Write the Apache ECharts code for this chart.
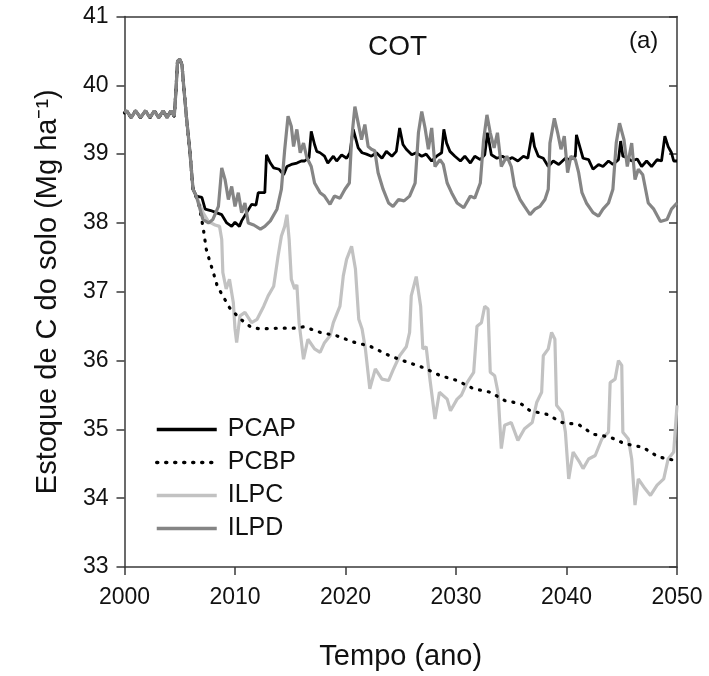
<!DOCTYPE html>
<html>
<head>
<meta charset="utf-8">
<script src="https://cdn.jsdelivr.net/npm/echarts@6/dist/echarts.min.js"></script>
<style>
html,body{margin:0;padding:0;background:#fff;}
#c{width:709px;height:676px;}
</style>
</head>
<body>
<div id="c"></div>
<script>
// ---- data (year, soil C stock Mg/ha) ----
const seriesNames = ['PCAP', 'PCBP', 'ILPC', 'ILPD'];
const xTicks = [2000, 2010, 2020, 2030, 2040, 2050];
const yTicks = [33, 34, 35, 36, 37, 38, 39, 40, 41];

// common period (all scenarios identical)
const shared = [
  [2000.0,39.60],[2000.2,39.63],[2000.6,39.53],[2001.0,39.63],[2001.45,39.53],[2001.9,39.63],
  [2002.3,39.53],[2002.7,39.63],[2003.1,39.53],[2003.5,39.63],[2003.85,39.53],[2004.2,39.63],
  [2004.5,39.55],[2004.65,39.90],[2004.8,40.35],[2005.0,40.38],[2005.2,40.30],[2005.35,40.00],
  [2005.6,39.55],[2005.9,39.07],[2006.2,38.49]
];

const pcapTail = [
  [2006.5,38.39],[2007.0,38.37],[2007.3,38.20],[2007.8,38.18],[2008.3,38.15],[2008.8,38.12],
  [2009.25,38.00],[2009.7,37.95],[2010.0,38.01],[2010.4,37.95],[2010.6,38.03],[2011.05,38.15],
  [2011.5,38.27],[2011.9,38.26],[2012.1,38.44],[2012.7,38.44],[2012.85,38.99],[2013.2,38.87],
  [2013.5,38.80],[2014.0,38.78],[2014.4,38.70],[2014.7,38.82],[2015.1,38.85],[2015.6,38.87],
  [2016.0,38.90],[2016.3,38.90],[2016.7,38.95],[2016.9,39.33],[2017.2,39.14],[2017.4,39.04],
  [2017.7,39.02],[2018.1,38.97],[2018.4,38.87],[2018.9,38.97],[2019.2,38.90],[2019.65,38.99],
  [2020.1,38.94],[2020.4,39.02],[2020.7,39.36],[2020.95,39.21],[2021.15,39.09],[2021.5,39.02],
  [2021.9,39.00],[2022.35,38.97],[2022.8,39.02],[2023.3,38.94],[2023.7,39.04],[2024.2,38.97],
  [2024.6,39.04],[2024.9,39.38],[2025.2,39.14],[2025.5,39.07],[2026.0,38.99],[2026.4,39.02],
  [2026.9,38.97],[2027.3,39.00],[2027.8,38.90],[2028.25,38.97],[2028.7,39.02],[2028.9,39.36],
  [2029.15,39.16],[2029.45,39.04],[2029.9,38.97],[2030.4,38.90],[2030.8,38.97],[2031.3,38.87],
  [2031.7,38.97],[2032.2,38.92],[2032.6,38.99],[2032.85,39.31],[2033.2,38.99],[2033.7,38.94],
  [2034.2,38.97],[2034.7,38.92],[2035.1,38.95],[2035.6,38.90],[2036.1,38.97],[2036.5,38.94],
  [2036.9,39.31],[2037.1,39.11],[2037.45,38.97],[2037.9,38.94],[2038.35,38.82],[2038.8,38.90],
  [2039.3,38.85],[2039.9,38.94],[2040.3,38.92],[2040.8,38.97],[2040.9,39.28],[2041.2,39.11],
  [2041.5,38.94],[2042.0,38.92],[2042.4,38.78],[2042.9,38.85],[2043.3,38.82],[2043.8,38.90],
  [2044.2,38.85],[2044.7,38.92],[2044.9,39.19],[2045.1,38.97],[2045.5,38.95],[2045.9,38.90],
  [2046.4,38.93],[2046.8,38.82],[2047.25,38.90],[2047.7,38.82],[2048.2,38.92],[2048.6,38.90],
  [2048.9,39.26],[2049.2,39.11],[2049.5,39.02],[2049.7,38.90],[2050.0,38.90]
];

const pcbpTail = [
  [2006.7,38.29],[2007.1,37.95],[2007.4,37.62],[2007.7,37.45],[2008.0,37.30],[2008.4,37.08],
  [2008.9,36.94],[2009.5,36.77],[2010.2,36.65],[2010.75,36.57],[2011.5,36.48],[2012.3,36.46],
  [2013.8,36.47],[2015.3,36.47],[2016.2,36.49],[2016.8,36.46],[2017.7,36.41],[2019.2,36.36],
  [2020.7,36.27],[2022.2,36.21],[2024.0,36.07],[2025.7,35.97],[2027.0,35.90],[2028.6,35.78],
  [2030.1,35.71],[2031.6,35.59],[2033.1,35.54],[2034.4,35.42],[2035.9,35.37],[2036.7,35.27],
  [2038.2,35.22],[2039.6,35.10],[2041.1,35.07],[2042.4,34.93],[2043.9,34.89],[2045.3,34.79],
  [2046.9,34.74],[2048.3,34.60],[2049.8,34.55],[2050.0,34.54]
];

const ilpcTail = [
  [2006.5,38.39],[2007.1,38.15],[2007.6,38.02],[2008.2,37.97],[2008.6,37.95],[2008.8,37.76],
  [2008.9,37.28],[2009.2,37.04],[2009.5,37.18],[2009.85,36.84],[2010.0,36.46],[2010.15,36.26],
  [2010.45,36.65],[2010.9,36.70],[2011.5,36.55],[2012.0,36.60],[2012.6,36.79],[2013.0,36.94],
  [2013.5,37.08],[2013.9,37.52],[2014.2,37.81],[2014.5,37.95],[2014.7,38.12],[2014.9,37.76],
  [2015.1,37.18],[2015.4,37.04],[2015.6,37.10],[2015.8,36.55],[2016.2,36.02],[2016.6,36.31],
  [2017.2,36.17],[2017.7,36.12],[2018.1,36.26],[2018.6,36.36],[2018.9,36.55],[2019.5,36.79],
  [2019.8,37.23],[2020.1,37.47],[2020.55,37.66],[2020.9,37.33],[2021.2,36.60],[2021.5,36.46],
  [2021.8,36.17],[2022.2,35.59],[2022.7,35.88],[2023.3,35.73],[2023.9,35.71],[2024.3,35.86],
  [2024.9,36.07],[2025.5,36.20],[2025.8,36.41],[2025.95,36.94],[2026.4,37.22],[2026.8,36.79],
  [2027.0,36.17],[2027.3,36.20],[2027.6,35.78],[2028.1,35.15],[2028.5,35.54],[2029.2,35.44],
  [2029.5,35.27],[2030.1,35.44],[2030.5,35.50],[2031.0,35.68],[2031.6,35.83],[2031.9,36.50],
  [2032.3,36.55],[2032.6,36.79],[2032.9,36.75],[2033.1,35.83],[2033.5,35.78],[2033.8,35.54],
  [2034.1,34.72],[2034.4,35.06],[2035.0,35.10],[2035.6,34.84],[2036.2,35.01],[2036.9,35.10],
  [2037.3,35.39],[2037.75,35.54],[2037.9,36.07],[2038.35,36.17],[2038.65,36.41],[2038.95,36.31],
  [2039.1,35.35],[2039.6,35.25],[2039.9,34.96],[2040.2,34.28],[2040.6,34.67],[2041.2,34.52],
  [2041.5,34.43],[2042.0,34.57],[2042.6,34.62],[2043.2,34.86],[2043.8,34.96],[2043.95,35.68],
  [2044.4,35.73],[2044.7,36.00],[2045.0,35.93],[2045.1,34.96],[2045.6,34.86],[2045.9,34.57],
  [2046.2,33.90],[2046.5,34.28],[2047.1,34.14],[2047.6,34.04],[2048.2,34.19],[2048.8,34.28],
  [2049.2,34.57],[2049.7,34.67],[2050.0,35.35]
];

const ilpdTail = [
  [2006.5,38.39],[2007.1,38.05],[2007.6,38.00],[2008.0,38.05],[2008.5,38.24],[2008.8,38.80],
  [2009.1,38.63],[2009.4,38.34],[2009.7,38.53],[2010.0,38.24],[2010.3,38.44],[2010.6,38.15],
  [2010.9,38.29],[2011.2,38.00],[2011.7,37.97],[2012.3,37.91],[2012.7,37.95],[2013.2,38.03],
  [2013.8,38.20],[2014.2,38.49],[2014.5,39.07],[2014.8,39.55],[2015.1,39.40],[2015.3,39.11],
  [2015.6,39.36],[2015.9,39.02],[2016.2,39.16],[2016.5,38.95],[2016.9,38.82],[2017.2,38.58],
  [2017.7,38.44],[2018.1,38.39],[2018.6,38.27],[2019.0,38.39],[2019.5,38.36],[2019.95,38.49],
  [2020.35,38.58],[2020.55,39.21],[2020.85,39.69],[2021.15,39.45],[2021.45,39.21],[2021.75,39.43],
  [2022.05,39.11],[2022.35,39.07],[2022.65,39.05],[2022.95,38.73],[2023.4,38.49],[2023.9,38.29],
  [2024.3,38.24],[2024.8,38.34],[2025.3,38.32],[2025.8,38.39],[2026.3,38.58],[2026.6,39.31],
  [2026.9,39.62],[2027.2,39.38],[2027.5,39.07],[2027.8,39.38],[2028.1,38.82],[2028.55,38.92],
  [2028.85,38.85],[2029.2,38.58],[2029.6,38.44],[2030.1,38.29],[2030.7,38.22],[2031.3,38.39],
  [2031.7,38.36],[2032.2,38.58],[2032.5,39.21],[2032.8,39.57],[2033.1,39.31],[2033.45,39.09],
  [2033.75,39.31],[2034.1,38.82],[2034.6,38.97],[2035.0,38.82],[2035.3,38.53],[2035.8,38.34],
  [2036.2,38.24],[2036.7,38.12],[2037.15,38.20],[2037.6,38.24],[2038.05,38.34],[2038.35,38.49],
  [2038.5,39.16],[2038.9,39.52],[2039.2,39.31],[2039.5,39.07],[2039.8,39.26],[2040.1,38.73],
  [2040.4,38.97],[2040.8,38.92],[2041.1,38.73],[2041.4,38.44],[2041.8,38.29],[2042.4,38.15],
  [2042.9,38.10],[2043.3,38.20],[2043.8,38.29],[2044.2,38.49],[2044.5,39.16],[2044.8,39.45],
  [2045.2,39.21],[2045.5,38.82],[2045.9,39.16],[2046.2,38.63],[2046.5,38.78],[2046.9,38.70],
  [2047.4,38.29],[2047.9,38.20],[2048.5,38.02],[2049.1,38.05],[2049.5,38.20],[2050.0,38.29]
];

const pcap = shared.concat(pcapTail);
const pcbp = shared.concat(pcbpTail);
const ilpc = shared.concat(ilpcTail);
const ilpd = shared.concat(ilpdTail);

// ---- chart ----
const FONT = "'Liberation Sans', Arial, sans-serif";
const AX = '#3a3a3a';
const chart = echarts.init(document.getElementById('c'), null, {renderer: 'canvas'});

const option = {
  animation: false,
  backgroundColor: '#fff',
  grid: {left: 124.5, right: 32, top: 16.5, bottom: 107.5, containLabel: false},
  legend: {
    orient: 'vertical', left: 150, top: 412,
    itemWidth: 60, itemHeight: 20, itemGap: 8,
    data: seriesNames,
    itemStyle: {opacity: 0},
    lineStyle: {width: 3.5},
    textStyle: {fontFamily: FONT, fontSize: 25, color: '#111', padding: [0,0,0,6]}
  },
  xAxis: [{
    type: 'value', min: xTicks[0], max: xTicks[xTicks.length-1], interval: 10,
    name: 'Tempo (ano)', nameLocation: 'middle', nameGap: 75,
    nameTextStyle: {fontFamily: FONT, fontSize: 29, color: '#111'},
    axisLine: {show: true, lineStyle: {color: AX, width: 1.5}},
    axisTick: {show: true, inside: false, length: 8, lineStyle: {color: AX, width: 1.5}},
    axisLabel: {fontFamily: FONT, fontSize: 23, color: '#111', margin: 19, formatter: v => String(v)},
    splitLine: {show: false}
  }, {
    type: 'value', position: 'top', min: xTicks[0], max: xTicks[xTicks.length-1], interval: 10,
    axisLine: {show: true, lineStyle: {color: AX, width: 1.5}},
    axisTick: {show: false}, axisLabel: {show: false}, splitLine: {show: false}
  }],
  yAxis: [{
    type: 'value', min: yTicks[0], max: yTicks[yTicks.length-1], interval: 1,
    name: 'Estoque de C do solo (Mg ha\u207B\u00B9)', nameLocation: 'middle', nameGap: 62,
    nameTextStyle: {fontFamily: FONT, fontSize: 29, color: '#111'},
    axisLine: {show: true, lineStyle: {color: AX, width: 1.5}},
    axisTick: {show: true, inside: false, length: 8, lineStyle: {color: AX, width: 1.5}},
    axisLabel: {fontFamily: FONT, fontSize: 23, color: '#111', margin: 16},
    splitLine: {show: false}
  }, {
    type: 'value', position: 'right', min: yTicks[0], max: yTicks[yTicks.length-1], interval: 1,
    axisLine: {show: true, lineStyle: {color: AX, width: 1.5}},
    axisTick: {show: true, inside: true, length: 8, lineStyle: {color: AX, width: 1.5}},
    axisLabel: {show: false}, splitLine: {show: false}
  }],
  graphic: [
    {type: 'text', left: 368, top: 33, style: {text: 'COT', font: "28px " + FONT, fill: '#111'}},
    {type: 'text', left: 629, top: 29, style: {text: '(a)', font: "24px " + FONT, fill: '#111'}}
  ],
  series: [
    {name: 'ILPC', type: 'line', data: ilpc, showSymbol: false, symbol: 'none', z: 2,
     lineStyle: {color: '#c2c2c2', width: 3.2}, itemStyle: {color: '#c2c2c2'}},
    {name: 'PCBP', type: 'line', data: pcbp, showSymbol: false, symbol: 'none', z: 3,
     lineStyle: {color: '#000', width: 3.2, type: [1, 8], cap: 'round'}, itemStyle: {color: '#000'}},
    {name: 'PCAP', type: 'line', data: pcap, showSymbol: false, symbol: 'none', z: 4,
     lineStyle: {color: '#000', width: 2.8}, itemStyle: {color: '#000'}},
    {name: 'ILPD', type: 'line', data: ilpd, showSymbol: false, symbol: 'none', z: 5,
     lineStyle: {color: '#858585', width: 3.2}, itemStyle: {color: '#858585'}}
  ]
};
chart.setOption(option);
</script>
</body>
</html>
